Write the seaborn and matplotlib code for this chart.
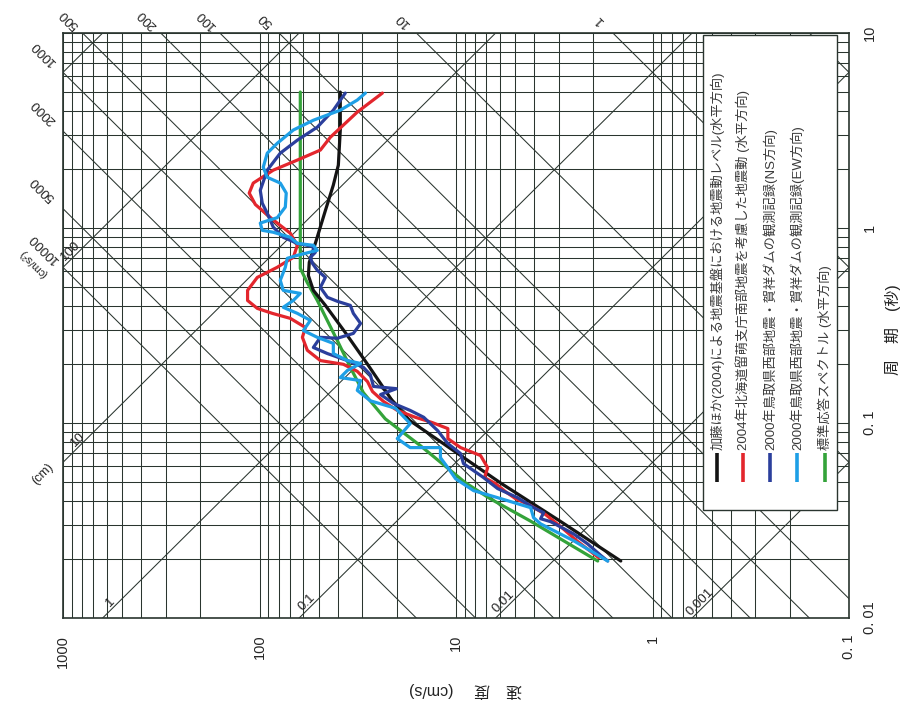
import numpy as np
import matplotlib
matplotlib.use("Agg")
import matplotlib.pyplot as plt
from matplotlib.patches import Rectangle
from matplotlib.ticker import LogLocator, NullFormatter, FixedLocator
import seaborn as sns

# ---------------- data (period T [s], pseudo velocity V [cm/s]) ----------------
kato_T = [4.98, 3.18, 2.10, 1.66, 1.23, 0.865, 0.667, 0.571, 0.479, 0.401, 0.291,
          0.197, 0.130, 0.103, 0.0722, 0.0489, 0.0315, 0.0196]
kato_V = [38.8, 38.8, 39.7, 42.1, 46.2, 51.4, 55.8, 56.4, 53.2, 46.2, 36.6,
          27.9, 21.1, 17.2, 10.3, 5.87, 2.97, 1.45]

rumoi_T = [4.92, 3.93, 2.92, 2.51, 2.23, 1.98, 1.70, 1.51, 1.32, 1.10, 0.940, 0.815,
           0.707, 0.629, 0.558, 0.479, 0.425, 0.387, 0.365, 0.344, 0.309, 0.275,
           0.236, 0.209, 0.200, 0.184, 0.163, 0.145, 0.129, 0.116, 0.107, 0.1005,
           0.0936, 0.0832, 0.0748, 0.0681, 0.0590, 0.0525, 0.0489, 0.0444, 0.0409,
           0.0377, 0.0339, 0.0294, 0.0249, 0.0204]
rumoi_V = [23.7, 31.8, 43.6, 49.0, 64.2, 85.1, 107.6, 112.8, 105.0, 85.1, 69.7, 64.2,
           67.3, 81.2, 102.6, 115.0, 115.0, 102.6, 86.1, 69.7, 58.4, 60.5,
           57.1, 49.0, 37.4, 31.8, 28.2, 26.6, 23.4, 19.9, 16.1, 13.2,
           11.0, 11.0, 9.48, 7.50, 6.90, 7.16, 6.29, 5.59, 4.97,
           4.17, 3.50, 2.93, 2.43, 1.88]

ns_T = [4.92, 4.02, 3.29, 2.82, 2.42, 1.98, 1.56, 1.34, 1.19, 1.01, 0.896, 0.834,
        0.805, 0.750, 0.707, 0.659, 0.607, 0.558, 0.496, 0.441, 0.421, 0.401, 0.365,
        0.324, 0.288, 0.272, 0.275, 0.244, 0.227, 0.209, 0.193, 0.177, 0.154, 0.150,
        0.140, 0.126, 0.116, 0.107, 0.0914, 0.0784, 0.0697, 0.0619, 0.0570, 0.0525,
        0.0461, 0.0414, 0.0368, 0.0347, 0.0323, 0.0312, 0.0270, 0.0240, 0.0209, 0.0196]
ns_V = [36.6, 42.1, 50.8, 64.2, 78.4, 91.3, 99.1, 96.8, 91.3, 85.1, 75.7, 64.2,
        53.8, 52.0, 55.1, 53.8, 50.8, 46.2, 49.0, 45.1, 40.2, 34.5, 33.3,
        30.6, 33.3, 40.2, 49.0, 53.2, 45.1, 35.7, 29.6, 27.3, 26.3, 20.1,
        24.2, 20.8, 17.1, 14.6, 12.4, 11.0, 9.48, 9.16, 8.14, 7.24,
        6.14, 4.86, 4.03, 3.58, 3.71, 3.30, 2.52, 2.14, 1.83, 1.69]

ew_T = [4.92, 4.53, 4.02, 3.57, 3.18, 2.72, 2.42, 2.05, 1.82, 1.70, 1.51, 1.28, 1.13,
        1.06, 0.973, 0.951, 0.896, 0.834, 0.815, 0.768, 0.724, 0.699, 0.629, 0.539,
        0.479, 0.462, 0.425, 0.392, 0.365, 0.336, 0.298, 0.275, 0.256, 0.227, 0.209,
        0.202, 0.186, 0.171, 0.165, 0.147, 0.130, 0.119, 0.0993, 0.0832, 0.0748,
        0.0748, 0.0664, 0.0590, 0.0518, 0.0450, 0.0414, 0.0368, 0.0327, 0.0304,
        0.0249, 0.0196]
ew_V = [28.9, 31.8, 38.8, 53.2, 67.3, 81.2, 91.3, 95.7, 91.3, 78.4, 73.1, 73.9, 81.2,
        99.1, 96.8, 85.1, 69.7, 64.2, 53.2, 50.8, 64.2, 72.2, 73.9, 78.4,
        75.7, 62.0, 67.3, 75.7, 64.2, 55.1, 59.8, 50.8, 42.1, 42.1, 35.7,
        30.6, 35.7, 38.8, 30.6, 31.8, 27.3, 20.3, 17.1, 19.9, 17.1,
        12.0, 12.0, 11.0, 10.05, 8.14, 6.14, 4.17, 4.03, 3.71,
        2.52, 1.69]

std_T = [4.98, 0.621, 0.526, 0.425, 0.265, 0.193, 0.143, 0.105, 0.0766, 0.0494,
         0.0409, 0.0315, 0.0196]
std_V = [62.0, 62.0, 57.2, 50.8, 40.2, 34.5, 29.6, 22.9, 15.2, 8.96,
         6.7, 4.2, 1.90]

series_labels = [
    "加藤ほか(2004)による地震基盤における地震動レベル(水平方向)",
    "2004年北海道留萌支庁南部地震を考慮した地震動 (水平方向)",
    "2000年鳥取県西部地震・賀祥ダムの観測記録(NS方向)",
    "2000年鳥取県西部地震・賀祥ダムの観測記録(EW方向)",
    "標準応答スペクトル (水平方向)",
]

vel_ticks = [1000, 100, 10, 1, 0.1]
vel_ticklabels = ["1000", "100", "10", "1", "0. 1"]
per_ticks = [0.01, 0.1, 1, 10]
per_ticklabels = ["0. 01", "0. 1", "1", "10"]

disp_lines = [0.001, 0.01, 0.1, 1, 10, 100, 1000]              # cm
acc_lines = [0.1, 1, 10, 50, 100, 200, 500, 1000, 2000, 5000, 10000]  # cm/s2
acc_top_labels = [500, 200, 100, 50, 10, 1]
acc_left_labels = [1000, 2000, 5000, 10000]
disp_bottom_labels = ["1", "0.1", "0.01", "0.001"]
disp_bottom_values = [1, 0.1, 0.01, 0.001]

# ---------------- style ----------------
sns.set_theme(style="white")
plt.rcParams["font.family"] = ["Liberation Sans", "Noto Sans CJK JP", "DejaVu Sans"]

GRID = "#2a352f"
colors = ["#141414", "#e3262d", "#2b3f9c", "#1e9fe6", "#34a33a"]

fig = plt.figure(figsize=(9.07, 7.09), dpi=100)
ax = fig.add_axes([63 / 907, 1 - 618 / 709, 786 / 907, 585 / 709])
ax.set_xscale("log")
ax.set_yscale("log")
ax.set_xlim(1000, 0.1)
ax.set_ylim(0.01, 10)

ax.xaxis.set_minor_locator(LogLocator(base=10, subs=np.arange(1, 10)))
ax.yaxis.set_minor_locator(LogLocator(base=10, subs=np.arange(1, 10)))
ax.xaxis.set_minor_formatter(NullFormatter())
ax.yaxis.set_minor_formatter(NullFormatter())
ax.grid(True, which="both", color=GRID, lw=0.75, zorder=0)
ax.set_axisbelow(True)

for s in ax.spines.values():
    s.set_color(GRID)
    s.set_linewidth(1.2)

# diagonal lines (tripartite)
Vspan = np.array([1e-3, 1e5])
for D in disp_lines:
    ax.plot(Vspan, 2 * np.pi * D / Vspan, color=GRID, lw=0.75, zorder=1)
for A in acc_lines:
    ax.plot(Vspan, 2 * np.pi * Vspan / A, color=GRID, lw=0.75, zorder=1)

# curves
series = [(kato_V, kato_T), (rumoi_V, rumoi_T), (ns_V, ns_T), (ew_V, ew_T), (std_V, std_T)]
order = [4, 0, 1, 2, 3]
for i in order:
    V, T = series[i]
    sns.lineplot(x=V, y=T, sort=False, estimator=None, color=colors[i], lw=2.3,
                 ax=ax, zorder=3)

# ticks
ax.set_xticks(vel_ticks)
ax.set_xticklabels(vel_ticklabels, rotation=90, fontsize=10.5)
ax.tick_params(axis="x", which="both", length=0, pad=12)
ax.yaxis.tick_right()
ax.set_yticks(per_ticks)
ax.set_yticklabels(per_ticklabels, rotation=90, va="center", fontsize=10.5)
ax.tick_params(axis="y", which="both", length=0, pad=10)
ax.set_xlabel("")
ax.set_ylabel("")

# diagonal labels
for A in acc_top_labels:
    T = 11.7
    ax.text(A * T / (2 * np.pi), T, str(A), rotation=135, rotation_mode="anchor",
            ha="center", va="center", fontsize=9.5, color="#222", clip_on=False)
for A in acc_left_labels:
    V = 1260
    ax.text(V, 2 * np.pi * V / A, str(A), rotation=135, rotation_mode="anchor",
            ha="center", va="center", fontsize=9.5, color="#222", clip_on=False)
ax.text(1420, 0.66, "(cm/s²)", rotation=135, rotation_mode="anchor",
        ha="center", va="center", fontsize=8, color="#222", clip_on=False)
for lab, D in zip(disp_bottom_labels, disp_bottom_values):
    T = 0.0115
    ax.text(2 * np.pi * D / T, T, lab, rotation=45, rotation_mode="anchor",
            ha="center", va="bottom", fontsize=9.5, color="#222", zorder=2)
for lab, D, V in [("10", 10, 800), ("100", 100, 868)]:
    ax.text(V, 2 * np.pi * D / V, lab, rotation=45, rotation_mode="anchor",
            ha="center", va="bottom", fontsize=9.5, color="#222", zorder=2)
ax.text(1206, 2 * np.pi * 10 / 1206, "(cm)", rotation=45, rotation_mode="anchor",
        ha="center", va="bottom", fontsize=9, color="#222", clip_on=False)

# legend (rotated like the rest of the chart)
ax.add_patch(Rectangle((0.814, 0.1846), 0.171, 0.812, transform=ax.transAxes,
                       facecolor="white", edgecolor=GRID, lw=1.0, zorder=4))
leg_x = [0.832, 0.865, 0.899, 0.934, 0.969]
for x, c, lab in zip(leg_x, colors, series_labels):
    ax.plot([x, x], [0.2325, 0.282], transform=ax.transAxes, color=c, lw=2.6,
            zorder=5, solid_capstyle="butt")
    ax.text(x, 0.287, lab, transform=ax.transAxes, rotation=90,
            rotation_mode="anchor", ha="left", va="center", fontsize=9.5,
            color="#3a3a3a", zorder=5)

# axis titles
fig.text(893 / 907, 1 - 330 / 709, "周　期　(秒)", rotation=90, ha="center",
         va="center", fontsize=11.5, color="#222")
fig.text(466 / 907, 1 - 690 / 709, "速　度　 (cm/s)", rotation=180, ha="center",
         va="center", fontsize=11.5, color="#222")

fig.savefig("out.png", dpi=100, facecolor="white")
